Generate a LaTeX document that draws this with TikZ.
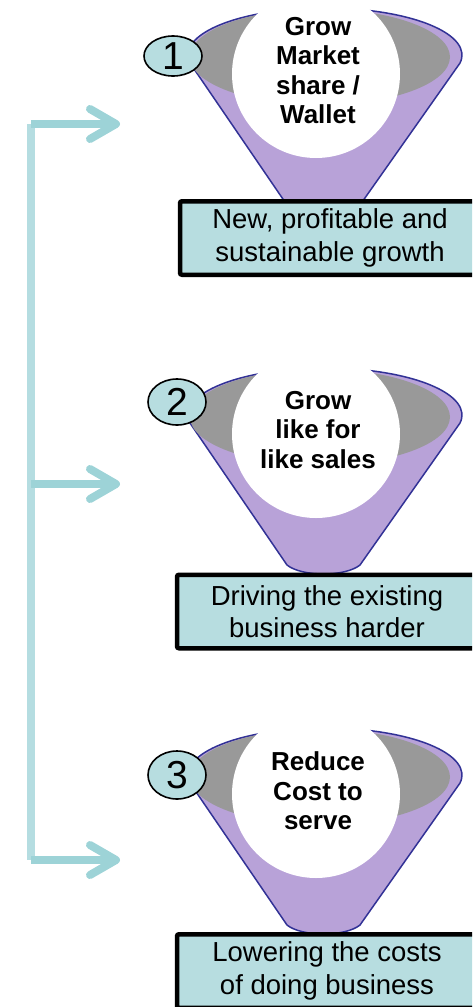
\documentclass[tikz,border=0pt]{standalone}
\usepackage{fontspec}
\setmainfont{Liberation Sans}
\usetikzlibrary{arrows.meta}
\usetikzlibrary{shapes.geometric}
\usetikzlibrary{positioning}

\definecolor{boxteal}{RGB}{183,221,224}
\definecolor{arrowteal}{RGB}{157,211,215}
\definecolor{spineteal}{RGB}{181,221,225}
\definecolor{funnelgrey}{RGB}{153,153,153}
\definecolor{funnelpurple}{RGB}{184,162,216}
\definecolor{funnelblue}{RGB}{50,50,150}

\begin{document}
\begin{tikzpicture}[x=1pt,y=-1pt,
  numoval/.style={draw,ellipse,fill=boxteal,line width=1.6pt,inner sep=0pt,minimum width=58pt,font=\fontsize{39}{39}\selectfont},
  headtext/.style={align=center,inner sep=0pt,anchor=north,font=\fontsize{26}{29.5}\selectfont\bfseries},
  resultbox/.style={draw,fill=boxteal,line width=4.5pt,rounded corners=2pt,minimum width=300pt,minimum height=73.5pt,align=center,inner sep=0pt,font=\fontsize{27.5}{32.5}\selectfont},
  spine/.style={line width=8pt,spineteal},
  feeder/.style={line width=8pt,arrowteal,-{Straight Barb[length=26pt,width=30pt,round]}},
  funnelline/.style={draw=funnelblue,line width=1.5pt}]
  \useasboundingbox (0,0) rectangle (472,1007);
  \clip (0,0) rectangle (472,1007);

  % bracket on the left
  \coordinate (s1) at (31,124);
  \coordinate (s2) at (31,484);
  \coordinate (s3) at (31,860);
  \coordinate (e1) at (120,124);
  \coordinate (e2) at (120,484);
  \coordinate (e3) at (120,860);
  \draw[spine](s1)--(s3);
  \draw[feeder](s1)--(e1);
  \draw[feeder](s2)--(e2);
  \draw[feeder](s3)--(e3);

  % the three funnels
  \foreach \dy in {-360,0,360}{
    \begin{scope}[shift={(0,\dy)}]
      \filldraw[funnelline,fill=funnelpurple] ([shift={(170:137 and 47)}]325,415) arc[start angle=170,end angle=370,x radius=137,y radius=47] -- (360,565) .. controls (345,577) and (302,577) .. (287,565) -- cycle;
      \fill[funnelgrey] (320,417) ellipse[x radius=130,y radius=48];
      \fill[white] (316,434) circle[radius=84];
    \end{scope}
  }

  \node[numoval,minimum height=40pt] (n1) at (173,56) {1};
  \node[numoval,minimum height=46pt] (n2) at (177,402) {2};
  \node[numoval,minimum height=48pt] (n3) at (177,775) {3};

  \node[headtext] (t1) at (318,17) {Grow\\Market\\share /\\Wallet};
  \node[headtext] (t2) at (318,391) {Grow\\like for\\like sales};
  \node[headtext] (t3) at (318,751.5) {Reduce\\Cost to\\serve};

  \node[resultbox] (b1) at (330,238) {New, profitable and\\sustainable growth};
  \node[resultbox] (b2) at (327,611.5) {Driving the existing\\business harder};
  \node[resultbox] (b3) at (327,971) {Lowering the costs\\of doing business};
\end{tikzpicture}
\end{document}
